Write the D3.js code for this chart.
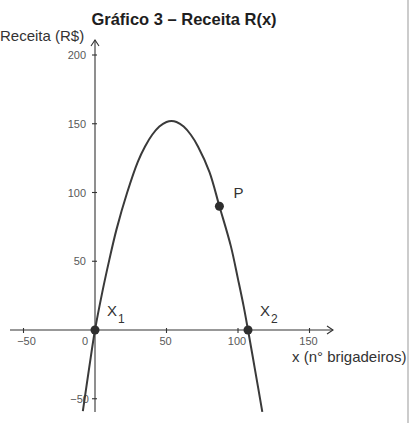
<!DOCTYPE html>
<html>
<head>
<meta charset="utf-8">
<script src="https://cdn.jsdelivr.net/npm/d3@7"></script>
<style>
  html, body {margin: 0; padding: 0; background: #fff;}
  svg {display: block; font-family: "Liberation Sans", Arial, sans-serif;}
</style>
</head>
<body>
<div id="chart"></div>
<script>
`use strict`;

// valores
const curveX = [-8.5, -4, 0, 5, 10, 15, 22.5, 30, 35, 40, 45, 50, 53.5, 57, 62, 67, 72, 80, 87, 95, 100, 104, 107, 112, 117];
const curveY = [-59, -27, 0, 27, 51, 73, 100, 122.5, 133.5, 142, 148, 151.3, 152, 151.3, 148, 142, 133.5, 115, 90, 61, 37, 17, 0, -29.5, -59.5];

const pointNames = [`X`, `X`, `P`];
const pointSubs = [`1`, `2`, ``];
const pointX = [0, 107, 87];
const pointY = [0, 0, 90];

const xTicks = [-50, 0, 50, 100, 150];
const yTicks = [-50, 50, 100, 150, 200];

const title = `Gráfico 3 – Receita R(x)`;
const yTitle = `Receita (R$)`;
const xTitle = `x (n° brigadeiros)`;

(function () {

  const W = 411, H = 423;

  let svg = d3.select(`#chart`).append(`svg`)
    .attr(`width`, W)
    .attr(`height`, H);

  let x = d3.scaleLinear().domain([0, 150]).range([95, 309.5]);
  let y = d3.scaleLinear().domain([0, 200]).range([330, 55]);

  // borda do scan a direita
  svg.append(`line`)
    .attr(`x1`, 408).attr(`x2`, 408)
    .attr(`y1`, 0).attr(`y2`, H)
    .attr(`stroke`, `#aaa`)
    .style(`stroke-width`, 1.2);

  svg.append(`text`)
    .attr(`x`, 184)
    .attr(`y`, 25)
    .attr(`text-anchor`, `middle`)
    .style(`font-size`, `16.5px`)
    .style(`font-weight`, `bold`)
    .style(`fill`, `#1e1e1e`)
    .text(title);

  svg.append(`text`)
    .attr(`x`, 0)
    .attr(`y`, 41)
    .style(`font-size`, `15px`)
    .style(`fill`, `#333`)
    .text(yTitle);

  svg.append(`text`)
    .attr(`x`, 292)
    .attr(`y`, 362)
    .style(`font-size`, `15px`)
    .style(`fill`, `#333`)
    .text(xTitle);

  let axes = svg.append(`g`)
    .attr(`stroke`, `#333`)
    .attr(`fill`, `none`)
    .style(`stroke-width`, 1.1);

  // eixo x com seta
  axes.append(`line`)
    .attr(`x1`, 10).attr(`x2`, 333)
    .attr(`y1`, y(0)).attr(`y2`, y(0));

  axes.append(`path`)
    .attr(`d`, `M${327},${y(0) - 4}L${333},${y(0)}L${327},${y(0) + 4}`);

  // eixo y com seta
  axes.append(`line`)
    .attr(`x1`, x(0)).attr(`x2`, x(0))
    .attr(`y1`, 40).attr(`y2`, 412);

  axes.append(`path`)
    .attr(`d`, `M${x(0) - 4},${46}L${x(0)},${40}L${x(0) + 4},${46}`);

  axes.selectAll(`line.xt`).data(xTicks.filter(d => d !== 0))
    .enter()
    .append(`line`)
    .attr(`class`, `xt`)
    .attr(`x1`, d => x(d)).attr(`x2`, d => x(d))
    .attr(`y1`, y(0) - 2).attr(`y2`, y(0) + 3);

  axes.selectAll(`line.yt`).data(yTicks)
    .enter()
    .append(`line`)
    .attr(`class`, `yt`)
    .attr(`x1`, x(0) - 3).attr(`x2`, x(0) + 2)
    .attr(`y1`, d => y(d)).attr(`y2`, d => y(d));

  svg.selectAll(`text.xl`).data(xTicks)
    .enter()
    .append(`text`)
    .attr(`class`, `xl`)
    .attr(`x`, d => d === 0 ? x(d) - 10 : x(d) + (d < 0 ? 3 : -1))
    .attr(`y`, 345)
    .attr(`text-anchor`, `middle`)
    .style(`font-size`, `11px`)
    .style(`fill`, `#595959`)
    .text(d => d < 0 ? `−${-d}` : d);

  svg.selectAll(`text.yl`).data(yTicks)
    .enter()
    .append(`text`)
    .attr(`class`, `yl`)
    .attr(`x`, d => d < 0 ? 89 : 86)
    .attr(`y`, d => y(d) + 4)
    .attr(`text-anchor`, `end`)
    .style(`font-size`, `11px`)
    .style(`fill`, `#595959`)
    .text(d => d < 0 ? `−${-d}` : d);

  let pts = curveX.map((d, i) => [d, curveY[i]]);

  let line = d3.line()
    .x(d => x(d[0]))
    .y(d => y(d[1]))
    .curve(d3.curveCatmullRom.alpha(0.5));

  svg.append(`path`)
    .datum(pts)
    .attr(`d`, line)
    .attr(`fill`, `none`)
    .attr(`stroke`, `#3a3a3a`)
    .style(`stroke-width`, 2);

  let marks = pointX.map((d, i) => ({x: d, y: pointY[i], name: pointNames[i], sub: pointSubs[i]}));

  svg.selectAll(`circle`).data(marks)
    .enter()
    .append(`circle`)
    .attr(`cx`, d => x(d.x))
    .attr(`cy`, d => y(d.y))
    .attr(`r`, 4.5)
    .attr(`fill`, `#2e2e2e`);

  let lbl = svg.selectAll(`text.pl`).data(marks)
    .enter()
    .append(`text`)
    .attr(`class`, `pl`)
    .attr(`x`, d => x(d.x) + (d.sub ? 12 : 14))
    .attr(`y`, d => y(d.y) - (d.sub ? 14 : 8))
    .style(`font-size`, `15px`)
    .style(`fill`, `#333`);

  lbl.append(`tspan`).text(d => d.name);

  lbl.append(`tspan`)
    .attr(`dx`, 1)
    .attr(`dy`, 7)
    .style(`font-size`, `12px`)
    .text(d => d.sub);

})();
</script>
</body>
</html>
